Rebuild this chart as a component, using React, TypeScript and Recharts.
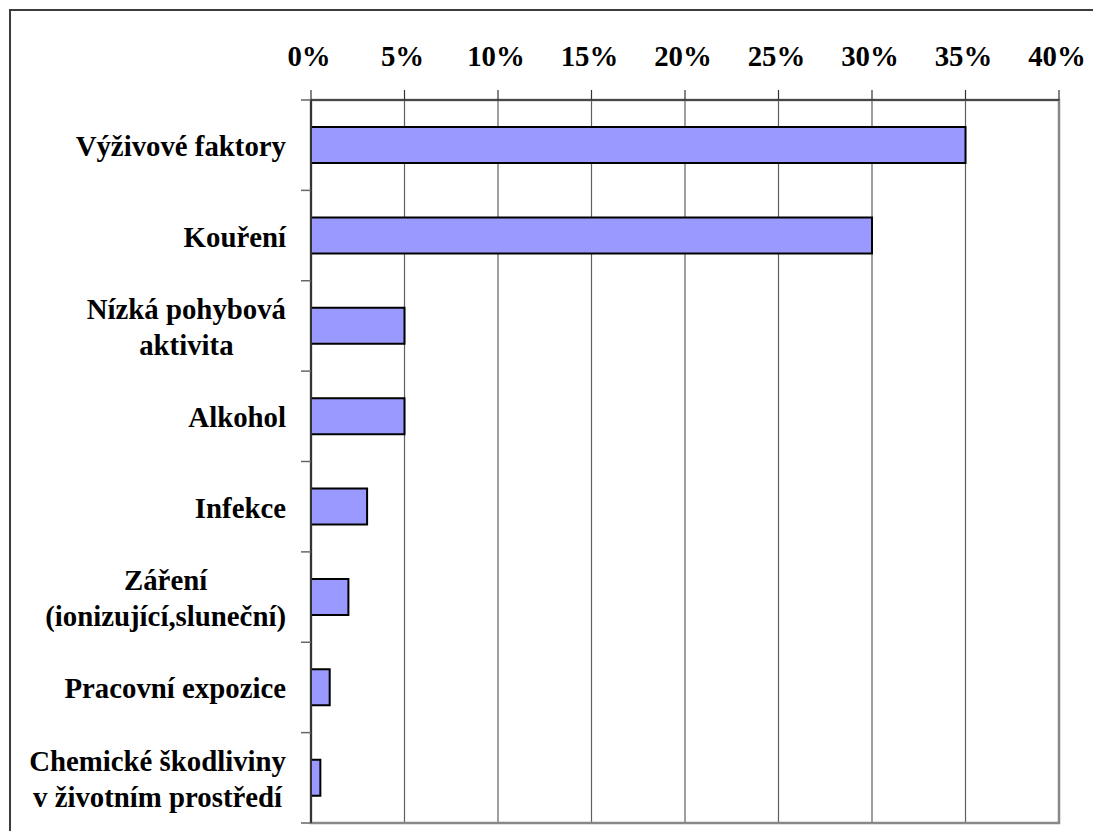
import React, { useLayoutEffect, useRef, useState } from "react";
import { BarChart, Bar, XAxis, YAxis, CartesianGrid, ReferenceArea } from "recharts";

const categories = [
  "Výživové faktory",
  "Kouření",
  "Nízká pohybová\naktivita",
  "Alkohol",
  "Infekce",
  "Záření\n(ionizující,sluneční)",
  "Pracovní expozice",
  "Chemické škodliviny\nv životním prostředí",
];
const values = [35, 30, 5, 5, 3, 2, 1, 0.5];
const xTicks = [0, 5, 10, 15, 20, 25, 30, 35, 40];

const data = categories.map((name, i) => ({ name, value: values[i] }));

const W = 1093;
const H = 831;
const MARGIN = { top: 0, right: 42, bottom: 16, left: 0 };
const X_AXIS_H = 92;
const Y_AXIS_W = 303;
const PLOT_H = H - MARGIN.top - MARGIN.bottom - X_AXIS_H;
const FONT = "'Liberation Serif', 'Times New Roman', serif";
const FS = 28.8;

function XTick(props: any) {
  const { x, y, payload } = props;
  return (
    <text
      x={x - 2}
      y={y - 22}
      textAnchor="middle"
      fontFamily={FONT}
      fontWeight="bold"
      fontSize={FS}
      fill="#000"
    >
      {`${payload.value}%`}
    </text>
  );
}

function YTick(props: any) {
  const { x, y, payload, index } = props;
  const lines: string[] = String(payload.value).split("\n");
  const refs = useRef<(SVGTextElement | null)[]>([]);
  const [widths, setWidths] = useState<number[] | null>(null);
  useLayoutEffect(() => {
    const w = refs.current.map((el) => (el ? el.getComputedTextLength() : 0));
    if (!widths || w.some((v, i) => Math.abs(v - widths[i]) > 0.5)) setWidths(w);
  });
  const band = PLOT_H / categories.length;
  const right = x - 25;
  const lh = 36;
  const base0 = y + 11 - ((lines.length - 1) * lh) / 2;
  const maxW = widths ? Math.max(...widths) : 0;
  return (
    <g>
      <line x1={x - 10} x2={x} y1={y - band / 2} y2={y - band / 2} stroke="#666" strokeWidth={1.5} />
      {index === categories.length - 1 && (
        <line x1={x - 10} x2={x} y1={y + band / 2} y2={y + band / 2} stroke="#666" strokeWidth={1.5} />
      )}
      {lines.map((ln, i) => {
        const shift = widths ? (maxW - widths[i]) / 2 : 0;
        return (
          <text
            key={i}
            ref={(el) => {
              refs.current[i] = el;
            }}
            x={right - shift}
            y={base0 + i * lh}
            textAnchor="end"
            fontFamily={FONT}
            fontWeight="bold"
            fontSize={FS}
            fill="#000"
          >
            {ln}
          </text>
        );
      })}
    </g>
  );
}

export default function App() {
  return (
    <div
      style={{
        width: W,
        height: H,
        marginBottom: -8,
        overflow: "hidden",
        position: "relative",
        background: "#fff",
      }}
    >
      <div
        style={{
          position: "absolute",
          left: 1,
          top: 1,
          width: W + 50,
          height: H + 50,
          border: "2px solid #3c3c3c",
          boxSizing: "border-box",
        }}
      />
      <div style={{ position: "absolute", left: 0, top: 0 }}>
        <BarChart
          width={W}
          height={H}
          data={data}
          layout="vertical"
          margin={MARGIN}
          barCategoryGap="30%"
        >
          <CartesianGrid horizontal={false} vertical={true} stroke="#606060" strokeWidth={1.2} />
          <ReferenceArea x1={0} x2={40} fill="none" stroke="#888" strokeWidth={2.5} ifOverflow="visible" />
          <XAxis
            type="number"
            orientation="top"
            domain={[0, 40]}
            ticks={xTicks}
            height={X_AXIS_H}
            tickSize={10}
            stroke="#333"
            axisLine={{ stroke: "#333", strokeWidth: 1.5 }}
            tickLine={{ stroke: "#333", strokeWidth: 1.2 }}
            tick={<XTick />}
            interval={0}
          />
          <YAxis
            type="category"
            dataKey="name"
            width={Y_AXIS_W}
            tickSize={0}
            tickMargin={0}
            tickLine={false}
            axisLine={{ stroke: "#333", strokeWidth: 2 }}
            tick={<YTick />}
            interval={0}
          />
          <Bar
            dataKey="value"
            fill="#9999FF"
            stroke="#000"
            strokeWidth={2}
            isAnimationActive={false}
          />
        </BarChart>
      </div>
    </div>
  );
}
